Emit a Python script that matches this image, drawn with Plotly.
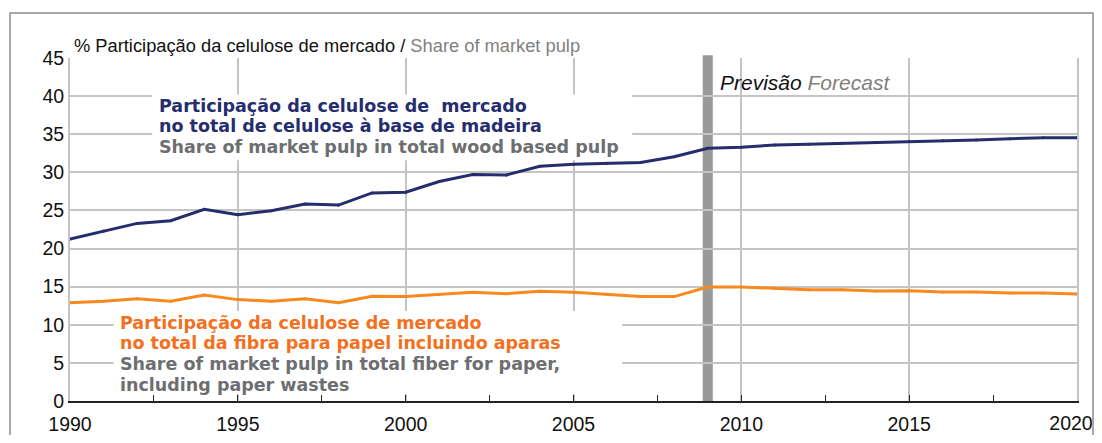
import plotly.graph_objects as go

years = list(range(1990, 2021))
market_share_wood = [21.25, 22.3, 23.3, 23.65, 25.15, 24.45, 24.96, 25.85, 25.7, 27.3,
                     27.4, 28.8, 29.7, 29.65, 30.8, 31.05, 31.2, 31.3, 32.05, 33.15,
                     33.3, 33.6, 33.7, 33.8, 33.9, 34.05, 34.15, 34.25, 34.4, 34.55, 34.55]
market_share_fiber = [12.9, 13.1, 13.4, 13.1, 13.9, 13.3, 13.1, 13.4, 12.9, 13.75,
                      13.7, 13.95, 14.26, 14.08, 14.4, 14.26, 14.0, 13.7, 13.7, 14.96,
                      14.96, 14.8, 14.6, 14.6, 14.43, 14.47, 14.3, 14.3, 14.17, 14.17, 14.04]
x_ticks = [1990, 1995, 2000, 2005, 2010, 2015, 2020]
y_ticks = [0, 5, 10, 15, 20, 25, 30, 35, 40, 45]
forecast_start = 2009

NAVY = "#262d6e"
ORANGE_LINE = "#f7891f"
ORANGE_TXT = "#f37021"
GRAY_TXT = "#6d6e71"
GRID = "#c4c4c4"
FONT = "Liberation Sans, Arial, sans-serif"
FONT_B = "DejaVu Sans, Liberation Sans, Arial, sans-serif"
TICKFONT = dict(family=FONT, size=19.5, color="#111111")

fig = go.Figure()
fig.add_trace(go.Scatter(x=years, y=market_share_wood, mode="lines+markers",
                         line=dict(color=NAVY, width=3), marker=dict(size=3, color=NAVY),
                         showlegend=False, hoverinfo="x+y"))
fig.add_trace(go.Scatter(x=years, y=market_share_fiber, mode="lines+markers",
                         line=dict(color=ORANGE_LINE, width=3), marker=dict(size=3, color=ORANGE_LINE),
                         showlegend=False, hoverinfo="x+y"))
# empty trace that keeps the helper axis (last year label) alive
fig.add_trace(go.Scatter(x=[], y=[], xaxis="x2", yaxis="y", showlegend=False, hoverinfo="skip"))

shapes = [
    # white boxes hiding gridlines behind labels
    dict(type="rect", xref="x", yref="y", x0=1992.45, x1=2006.75, y0=31.6, y1=40.2,
         fillcolor="white", line=dict(width=0), layer="between"),
    dict(type="rect", xref="x", yref="y", x0=1991.3, x1=2006.45, y0=0.9, y1=11.8,
         fillcolor="white", line=dict(width=0), layer="between"),
    # forecast bar
    dict(type="rect", xref="x", yref="paper", x0=forecast_start - 0.15, x1=forecast_start + 0.15,
         y0=0, y1=1.008, fillcolor="#999999", line=dict(width=0), layer="between"),
    # outer frame
    dict(type="rect", xref="paper", yref="paper", x0=-0.0596, x1=1.0159, y0=-0.25, y1=1.131,
         fillcolor="rgba(0,0,0,0)", line=dict(color="#8c8c8c", width=1.5), layer="above"),
]

ann = []
ann.append(dict(xref="paper", yref="paper", x=0.002, y=1.0, xanchor="left", yanchor="bottom",
                yshift=0, showarrow=False,
                text="% Participação da celulose de mercado / <span style='color:#808080'>Share of market pulp</span>",
                font=dict(family=FONT, size=18.3, color="#111111")))
ann.append(dict(xref="x", yref="y", x=2009.3, y=41.85, xanchor="left", yanchor="middle",
                showarrow=False,
                text="<i>Previsão <span style='color:#808080'>Forecast</span></i>",
                font=dict(family=FONT, size=21, color="#111111")))

blue_lines = [("Participação da celulose de  mercado", NAVY, 38.75),
              ("no total de celulose à base de madeira", NAVY, 36.05),
              ("Share of market pulp in total wood based pulp", GRAY_TXT, 33.35)]
for txt, col, yy in blue_lines:
    ann.append(dict(xref="x", yref="y", x=1992.6, y=yy, xanchor="left", yanchor="middle",
                    showarrow=False, text="<b>" + txt + "</b>",
                    font=dict(family=FONT_B, size=17.5, color=col)))

orange_lines = [("Participação da celulose de mercado", ORANGE_TXT, 10.25),
                ("no total da fibra para papel incluindo aparas", ORANGE_TXT, 7.55),
                ("Share of market pulp in total fiber for paper,", GRAY_TXT, 4.85),
                ("including paper wastes", GRAY_TXT, 2.15)]
for txt, col, yy in orange_lines:
    ann.append(dict(xref="x", yref="y", x=1991.42, y=yy, xanchor="left", yanchor="middle",
                    showarrow=False, text="<b>" + txt + "</b>",
                    font=dict(family=FONT_B, size=17.5, color=col)))

main_labels = [str(v) for v in x_ticks[:-1]] + [""]

# page body has an 8px margin: figure sized/shifted to compensate
fig.update_layout(
    width=1086, height=427,
    margin=dict(l=62, r=17, t=50, b=34),
    paper_bgcolor="white", plot_bgcolor="white",
    shapes=shapes, annotations=ann,
    font=dict(family=FONT, size=19, color="#111111"),
    xaxis=dict(range=[1990, 2020], tickvals=x_ticks, ticktext=main_labels,
               showgrid=True, gridcolor=GRID, gridwidth=2,
               showline=True, linecolor="#222222", linewidth=1.5,
               ticks="inside", ticklen=6, tickcolor="#222222", tickwidth=1,
               minor=dict(dtick=2.5, tick0=1990, ticks="inside", ticklen=6,
                          tickcolor="#222222", showgrid=False),
               ticklabelstandoff=5,
               tickfont=TICKFONT,
               zeroline=False, fixedrange=True, automargin=False),
    xaxis2=dict(range=[1990, 2020], overlaying="x", anchor="y", side="bottom",
                tickvals=[x_ticks[-1]], ticktext=[str(x_ticks[-1])],
                showgrid=False, showline=False, zeroline=False, ticks="",
                ticklabelstandoff=8, ticklabelshift=-6, ticklabeloverflow="allow",
                tickfont=TICKFONT, fixedrange=True, automargin=False),
    yaxis=dict(range=[0, 45], tickvals=y_ticks, ticktext=[str(v) for v in y_ticks],
               showgrid=True, gridcolor=GRID, gridwidth=2,
               showline=True, linecolor=GRID, linewidth=2, mirror=True,
               ticks="", tickfont=TICKFONT,
               zeroline=False, fixedrange=True, automargin=False),
)

fig.write_html("out.html")
